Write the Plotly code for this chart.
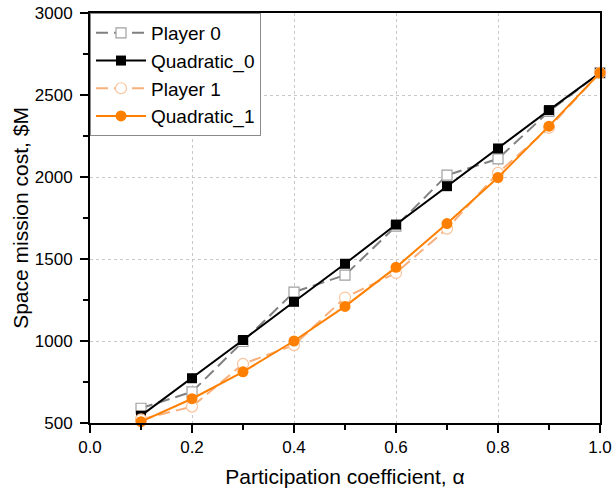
import plotly.graph_objects as go

alpha = [0.1, 0.2, 0.3, 0.4, 0.5, 0.6, 0.7, 0.8, 0.9, 1.0]
player0 = [590, 690, 997, 1298, 1402, 1700, 2011, 2111, 2400, 2635]
quad0 = [545, 773, 1006, 1239, 1471, 1710, 1944, 2174, 2408, 2635]
player1 = [522, 600, 860, 975, 1265, 1415, 1685, 2025, 2300, 2635]
quad1 = [508, 648, 812, 1000, 1211, 1449, 1716, 1997, 2310, 2635]

FONT = "Liberation Sans, Arial, sans-serif"

fig = go.Figure()
fig.add_trace(go.Scatter(
    x=alpha, y=player0, name="Player 0", mode="lines+markers", cliponaxis=False,
    line=dict(color="#808080", width=2, dash="12px,6px"),
    marker=dict(symbol="square", size=10, color="white", line=dict(color="#A0A0A0", width=1.2))))
fig.add_trace(go.Scatter(
    x=alpha, y=quad0, name="Quadratic_0", mode="lines+markers", cliponaxis=False,
    line=dict(color="black", width=2),
    marker=dict(symbol="square", size=10, color="black", line=dict(color="black", width=0))))
fig.add_trace(go.Scatter(
    x=alpha, y=player1, name="Player 1", mode="lines+markers", cliponaxis=False,
    line=dict(color="#F7B07C", width=2, dash="12px,6px"),
    marker=dict(symbol="circle", size=11, color="white", line=dict(color="#F9C49C", width=1.2))))
fig.add_trace(go.Scatter(
    x=alpha, y=quad1, name="Quadratic_1", mode="lines+markers", cliponaxis=False,
    line=dict(color="#FF8000", width=2),
    marker=dict(symbol="circle", size=11, color="#FF8000", line=dict(color="#FF8000", width=0))))

axis_common = dict(showline=True, linecolor="black", linewidth=2, zeroline=False, automargin=False)

fig.update_layout(
    width=613, height=493,
    margin=dict(l=90, r=13, t=13, b=70, autoexpand=False),
    plot_bgcolor="white", paper_bgcolor="white",
    font=dict(family=FONT, size=17, color="black"),
    showlegend=True,
    legend=dict(x=0, y=1, xanchor="left", yanchor="top",
                bgcolor="white", bordercolor="#8a8a8a", borderwidth=1,
                font=dict(family=FONT, size=19, color="black"),
                itemwidth=50, tracegroupgap=0),
    xaxis=dict(range=[0, 1], dtick=0.2, tick0=0, tickformat=".1f",
               ticks="outside", ticklen=8, tickwidth=2, tickcolor="black",
               minor=dict(dtick=0.1, ticks="outside", ticklen=5, tickwidth=2, tickcolor="black", showgrid=False),
               showgrid=True, gridcolor="#c8c8c8", griddash="dot", gridwidth=1,
               mirror=True,
               title=dict(text="Participation coefficient, α", font=dict(size=21), standoff=13),
               **axis_common),
    yaxis=dict(range=[500, 3000], dtick=500, tick0=500,
               ticks="outside", ticklen=8, tickwidth=2, tickcolor="black",
               ticklabelstandoff=4,
               minor=dict(dtick=250, ticks="outside", ticklen=5, tickwidth=2, tickcolor="black", showgrid=False),
               showgrid=True, gridcolor="#c8c8c8", griddash="dot", gridwidth=1,
               mirror=True,
               title=dict(text="Space mission cost, $M", font=dict(size=21), standoff=0),
               **axis_common),
    xaxis2=dict(overlaying="x", side="top", range=[0, 1], dtick=0.2, tick0=0,
                ticks="inside", ticklen=8, tickwidth=2, tickcolor="black",
                minor=dict(dtick=0.1, ticks="inside", ticklen=5, tickwidth=2, tickcolor="black"),
                showticklabels=False, showgrid=False, zeroline=False, showline=False, automargin=False),
    yaxis2=dict(overlaying="y", side="right", range=[500, 3000], dtick=500, tick0=500,
                ticks="inside", ticklen=8, tickwidth=2, tickcolor="black",
                minor=dict(dtick=250, ticks="inside", ticklen=5, tickwidth=2, tickcolor="black"),
                showticklabels=False, showgrid=False, zeroline=False, showline=False, automargin=False),
)

fig.write_html("out.html", config={"displayModeBar": False},
               post_script="document.body.style.margin='0px';")
